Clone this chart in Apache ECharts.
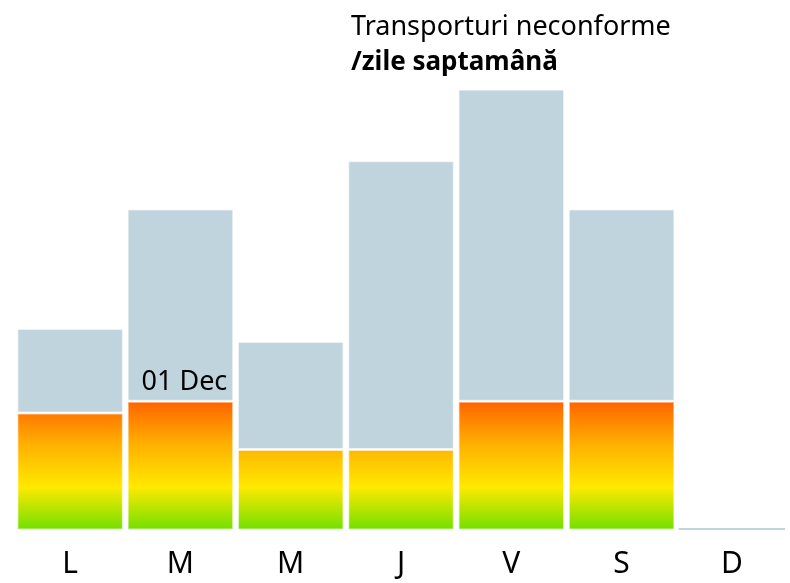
<!DOCTYPE html>
<html>
<head>
<meta charset="utf-8">
<script src="https://cdn.jsdelivr.net/npm/echarts@6/dist/echarts.min.js"></script>
<style>
  html, body { margin: 0; padding: 0; background: #fff; }
  #chart { width: 790px; height: 583px; }
</style>
</head>
<body>
<div id="chart"></div>
<script>
// zilele saptamanii
const days = ['L', 'M', 'M', 'J', 'V', 'S', 'D']
// partea colorata (jos)
const neconforme = [9.0, 9.9, 6.2, 6.2, 9.9, 9.9, 0]
// partea gri, stivuita deasupra
const restul = [6.5, 14.8, 8.3, 22.2, 24.0, 14.8, 0.15]
const dateLabel = '01 Dec'
const labelIndex = 1

const font = '"Noto Sans", "DejaVu Sans", sans-serif'

let myChart = echarts.init(document.getElementById('chart'))

// gradient pe toata zona graficului (nu pe fiecare bara)
const fill = new echarts.graphic.LinearGradient(0, 400, 0, 530, [
  { offset: 0, color: '#ff6200' },
  { offset: 0.35, color: '#ffb200' },
  { offset: 0.67, color: '#ffe900' },
  { offset: 1, color: '#70e000' },
], true)

myChart.setOption({
  animation: false,
  title: {
    left: 346,
    top: 4,
    text: '{a|Transporturi neconforme}\n{b|/zile saptamână}',
    textStyle: {
      fontWeight: 'normal',
      rich: {
        a: { fontFamily: font, fontSize: 27, fontWeight: 'normal', color: '#000', lineHeight: 36 },
        b: { fontFamily: font, fontSize: 26, fontWeight: 'bold', color: '#000', lineHeight: 36 },
      },
    },
  },
  grid: { left: 15, right: 3, top: 88, bottom: 53 },
  xAxis: {
    type: 'category',
    data: days,
    axisLine: { show: false },
    axisTick: { show: false },
    axisLabel: {
      margin: 19,
      fontFamily: font,
      fontSize: 30,
      color: '#000',
    },
  },
  yAxis: {
    type: 'value',
    min: 0,
    max: 34,
    show: false,
    splitLine: { show: false },
  },
  series: [
    {
      name: 'neconforme',
      type: 'bar',
      stack: 'total',
      barWidth: '96.5%',
      itemStyle: {
        color: fill,
        borderColor: 'rgba(255,255,255,0.6)',
        borderWidth: 1.5,
      },
      label: { show: false },
      data: neconforme.map((v, i) => i === labelIndex
        ? {
            value: v,
            label: {
              show: true,
              position: 'top',
              distance: 5,
              formatter: dateLabel,
              fontFamily: font,
              fontSize: 27,
              color: '#000',
              offset: [4, 0],
            },
          }
        : v),
    },
    {
      name: 'restul',
      type: 'bar',
      stack: 'total',
      barWidth: '96.5%',
      itemStyle: {
        color: '#c0d4dd',
        borderColor: 'rgba(255,255,255,0.6)',
        borderWidth: 1.5,
      },
      data: restul.map((v, i) => days[i] === 'D'
        ? { value: v, itemStyle: { borderWidth: 0 } }
        : v),
    },
  ],
})
</script>
</body>
</html>
